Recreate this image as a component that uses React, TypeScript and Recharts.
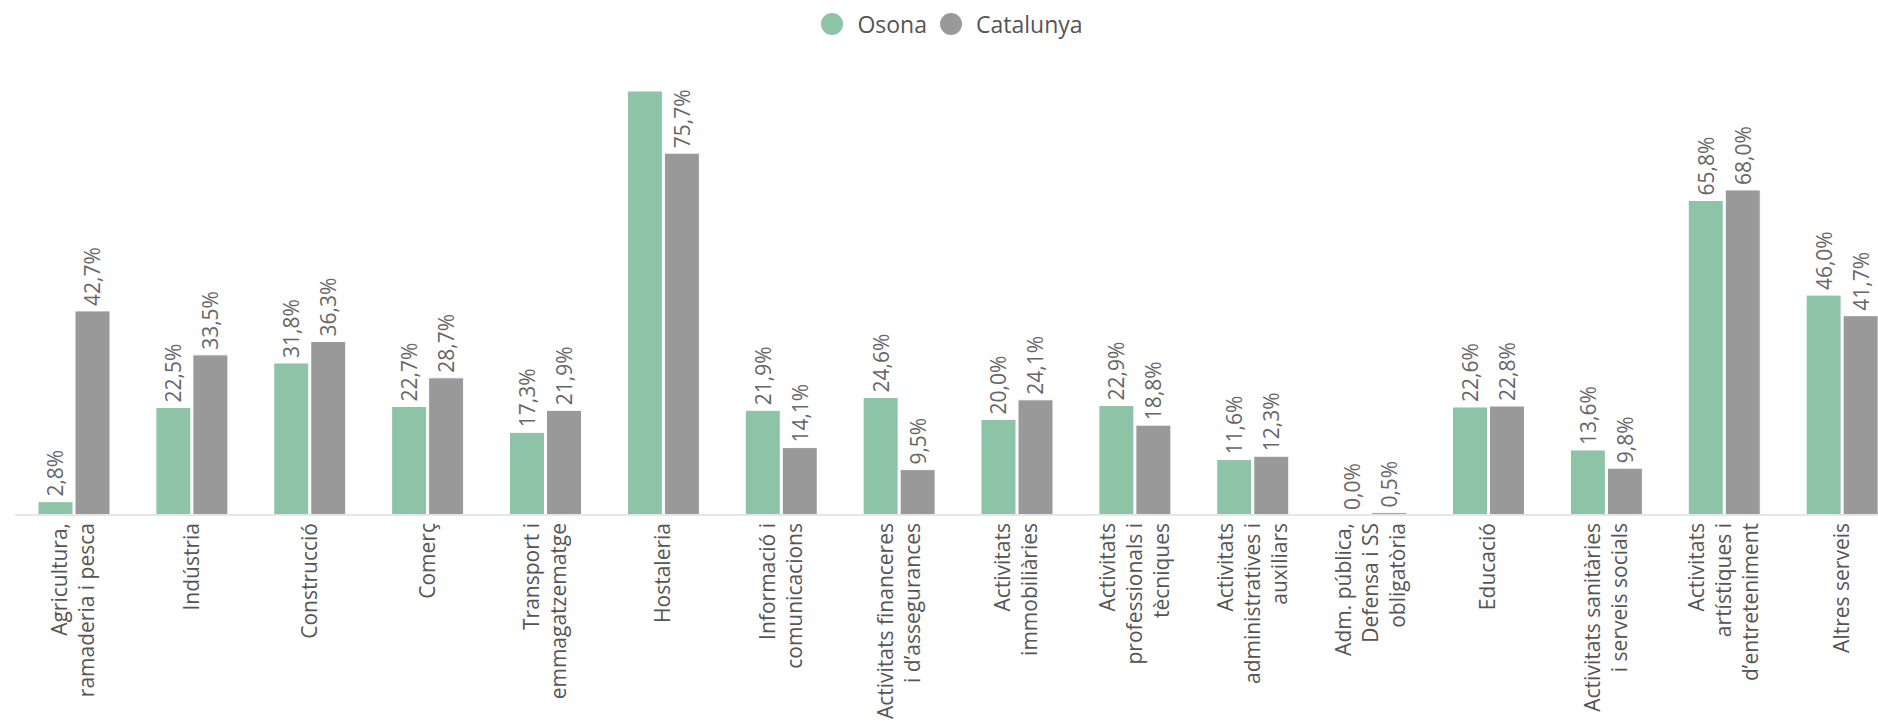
import React from 'react';
import { BarChart, Bar, XAxis, YAxis } from 'recharts';

// Sectors (line breaks as in the original axis labels)
const categories = [
  'Agricultura,\nramaderia i pesca',
  'Indústria',
  'Construcció',
  'Comerç',
  'Transport i\nemmagatzematge',
  'Hostaleria',
  'Informació i\ncomunicacions',
  'Activitats financeres\ni d’assegurances',
  'Activitats\nimmobiliàries',
  'Activitats\nprofessionals i\ntècniques',
  'Activitats\nadministratives i\nauxiliars',
  'Adm. pública,\nDefensa i SS\nobligatòria',
  'Educació',
  'Activitats sanitàries\ni serveis socials',
  'Activitats\nartístiques i\nd’entreteniment',
  'Altres serveis',
];

const osona = [2.8, 22.5, 31.8, 22.7, 17.3, 88.7, 21.9, 24.6, 20.0, 22.9, 11.6, 0.0, 22.6, 13.6, 65.8, 46.0];
const catalunya = [42.7, 33.5, 36.3, 28.7, 21.9, 75.7, 14.1, 9.5, 24.1, 18.8, 12.3, 0.5, 22.8, 9.8, 68.0, 41.7];

const seriesNames = ['Osona', 'Catalunya'];
const seriesColors = ['#8dc3a7', '#999999'];

const FONT = '"Open Sans", sans-serif';
const PLOT_TOP = 37;

const chartData = categories.map((c, i) => ({
  name: c,
  osona: osona[i],
  catalunya: catalunya[i],
}));

const fmt = (v: number) => `${v.toFixed(1).replace('.', ',')}%`;

// zero values still need a rectangle so the 0,0% label gets drawn
const keepZero = (v: any) => (Number(v) === 0 ? 0.001 : 0);

function CategoryTick({ x, y, payload }: any) {
  const lines = String(payload.value).split('\n');
  const lh = 27;
  return (
    <g transform={`translate(${x},${y})`}>
      <text transform="rotate(-90)" textAnchor="end" fontSize={21} fill="#555" fontFamily={FONT}>
        {lines.map((l, i) => (
          <tspan key={i} x={-8} y={(i - (lines.length - 1) / 2) * lh + 7}>
            {l}
          </tspan>
        ))}
      </text>
    </g>
  );
}

function ValueLabel(props: any) {
  const { x, y, width, value } = props;
  const txt = fmt(Number(value));
  // labels that would spill above the plot area are dropped
  if (y - 5 - txt.length * 12.5 < PLOT_TOP) return null;
  const cx = x + width / 2;
  const ty = y - 5;
  return (
    <text
      x={cx}
      y={ty}
      transform={`rotate(-90, ${cx}, ${ty})`}
      textAnchor="start"
      dominantBaseline="central"
      fontSize={21}
      fill="#666"
      fontFamily={FONT}
    >
      {txt}
    </text>
  );
}

export default function App() {
  return (
    <div style={{ position: 'absolute', left: 0, top: 0, width: 1878, height: 721, overflow: 'hidden', background: '#fff' }}>
      <div style={{ position: 'absolute', left: 0, top: 8, width: 1904, display: 'flex', justifyContent: 'center', alignItems: 'center', fontFamily: FONT, fontSize: 23, color: '#555', height: 32 }}>
        {seriesNames.map((s, i) => (
          <span key={s} style={{ display: 'flex', alignItems: 'center', marginRight: i === 0 ? 13 : 0 }}>
            <span style={{ display: 'inline-block', width: 22, height: 22, borderRadius: 11, background: seriesColors[i], marginRight: 14 }} />
            {s}
          </span>
        ))}
      </div>
      <BarChart
        width={1904}
        height={721}
        data={chartData}
        margin={{ top: PLOT_TOP, right: 3, left: 15, bottom: 0 }}
        barSize={35}
        barGap={2}
      >
        <XAxis
          dataKey="name"
          interval={0}
          height={206}
          tick={<CategoryTick />}
          tickLine={false}
          tickSize={0}
          tickMargin={0}
          axisLine={{ stroke: '#e6e6e6', strokeWidth: 2 }}
        />
        <YAxis hide domain={[0, 100]} />
        <Bar dataKey="osona" fill={seriesColors[0]} stroke="#fff" strokeWidth={1} minPointSize={keepZero} isAnimationActive={false} label={<ValueLabel />} />
        <Bar dataKey="catalunya" fill={seriesColors[1]} stroke="#fff" strokeWidth={1} minPointSize={keepZero} isAnimationActive={false} label={<ValueLabel />} />
      </BarChart>
    </div>
  );
}
